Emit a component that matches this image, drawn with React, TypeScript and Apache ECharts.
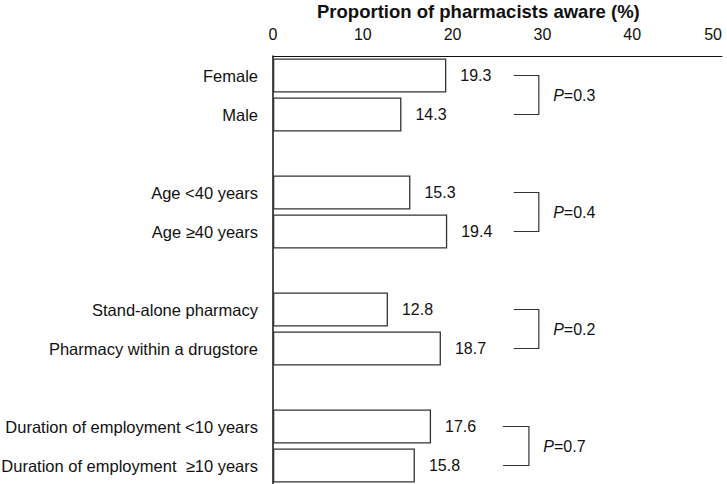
import React, { useEffect, useRef } from "react";
import * as echarts from "echarts";

const categories = [
  "Female",
  "Male",
  " ",
  "Age <40 years",
  "Age \u226540 years",
  "  ",
  "Stand-alone pharmacy",
  "Pharmacy within a drugstore",
  "   ",
  "Duration of employment <10 years",
  "Duration of employment  \u226510 years",
];
const values: (number | null)[] = [19.3, 14.3, null, 15.3, 19.4, null, 12.8, 18.7, null, 17.6, 15.8];
const xTicks = [0, 10, 20, 30, 40, 50];
const groupTop = ["Female", "Age <40 years", "Stand-alone pharmacy", "Duration of employment <10 years"];
const groupBottom = ["Male", "Age \u226540 years", "Pharmacy within a drugstore", "Duration of employment  \u226510 years"];
const pValues = ["0.3", "0.4", "0.2", "0.7"];

const FONT = "'Liberation Sans', Arial, Helvetica, sans-serif";
// bracket placement (axis units): [left end, vertical line, label start]
const BRACKET_POS = [
  [26.8, 29.6, 31.2],
  [26.8, 29.6, 31.2],
  [26.8, 29.6, 31.2],
  [25.6, 28.5, 30.1],
];

export default function App() {
  const ref = useRef<HTMLDivElement>(null);
  useEffect(() => {
    if (!ref.current) return;
    const chart = echarts.init(ref.current, undefined, { renderer: "svg" });
    chart.setOption({
      animation: false,
      backgroundColor: "#ffffff",
      textStyle: { fontFamily: FONT },
      title: {
        text: "Proportion of pharmacists aware (%)",
        left: 317,
        top: 2,
        padding: 0,
        textStyle: { fontFamily: FONT, fontSize: 18.5, fontWeight: "bold", color: "#111" },
      },
      grid: { left: 273, right: 5, top: 56, bottom: -1, containLabel: false, outerBoundsMode: "none" },
      xAxis: {
        type: "value",
        position: "top",
        min: xTicks[0],
        max: xTicks[xTicks.length - 1],
        interval: 10,
        axisLine: { show: true, lineStyle: { color: "#111", width: 1 } },
        axisTick: { show: false },
        splitLine: { show: false },
        axisLabel: { fontSize: 16, color: "#111", margin: 14, fontFamily: FONT, alignMaxLabel: "right" },
      },
      yAxis: {
        type: "category",
        inverse: true,
        data: categories,
        axisLine: { show: true, lineStyle: { color: "#111", width: 1.5 } },
        axisTick: { show: false },
        axisLabel: { fontSize: 16.5, color: "#111", margin: 15, fontFamily: FONT },
      },
      series: [
        {
          type: "bar",
          data: values,
          barWidth: 34,
          itemStyle: { color: "#ffffff", borderColor: "#333", borderWidth: 1.3 },
          label: {
            show: true,
            position: "right",
            distance: 14,
            fontSize: 16,
            color: "#111",
            fontFamily: FONT,
            formatter: (p: any) => (p.value == null ? "" : Number(p.value).toFixed(1)),
          },
        },
        {
          type: "custom",
          data: pValues.map((p, i) => [Number(p), categories.indexOf(groupTop[i])]),
          encode: { x: 0, y: 1 },
          silent: true,
          renderItem: (params: any, api: any) => {
            const i = params.dataIndex;
            const ti = categories.indexOf(groupTop[i]);
            const bi = categories.indexOf(groupBottom[i]);
            const [x0, x1, xl] = BRACKET_POS[i];
            const a = api.coord([x0, ti]);
            const b = api.coord([x1, ti]);
            const c = api.coord([x1, bi]);
            const d = api.coord([x0, bi]);
            const l = api.coord([xl, ti]);
            return {
              type: "group",
              children: [
                {
                  type: "polyline",
                  shape: { points: [a, b, c, d] },
                  style: { stroke: "#333", lineWidth: 1.2, fill: null },
                },
                {
                  type: "text",
                  x: l[0],
                  y: (a[1] + d[1]) / 2,
                  style: {
                    text: "{i|P}=" + pValues[i],
                    fill: "#111",
                    fontSize: 16,
                    fontFamily: FONT,
                    verticalAlign: "middle",
                    align: "left",
                    rich: { i: { fontStyle: "italic", fontSize: 16, fontFamily: FONT, fill: "#111" } },
                  },
                },
              ],
            };
          },
        },
      ],
    });
    return () => chart.dispose();
  }, []);
  return (
    <div
      ref={ref}
      style={{ position: "fixed", left: 0, top: 0, width: 727, height: 484, background: "#fff" }}
    />
  );
}
